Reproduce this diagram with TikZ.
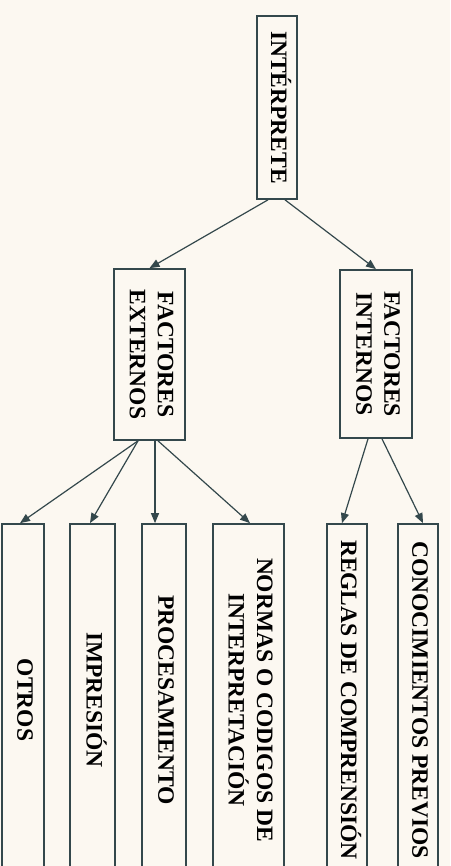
\documentclass[tikz,border=0pt]{standalone}
\usepackage{fontspec}
\setmainfont{Liberation Serif}
\usetikzlibrary{arrows.meta}
\definecolor{bgc}{HTML}{FCF8F1}
\definecolor{linec}{HTML}{34484C}
\newcommand{\rtxt}[1]{\rotatebox{-90}{\begin{tabular}{@{}c@{}}#1\end{tabular}}}
\begin{document}
\begin{tikzpicture}[x=1pt,y=-1pt,
  box/.style={draw=linec, line width=1.7pt, inner sep=0pt, align=center,
    font=\fontsize{23.5}{28}\selectfont\bfseries, text=black},
  conn/.style={draw=linec, line width=1.2pt, -{Triangle[length=10pt,width=8pt]}}]
\useasboundingbox[fill=bgc] (0,0) rectangle (450,866);
\clip (0,0) rectangle (450,866);
\node[box, minimum width=40pt, minimum height=183pt] (int) at (277,107.5) {\rtxt{INTÉRPRETE}};
\node[box, minimum width=72pt, minimum height=168pt] (fi) at (376,354) {\rtxt{FACTORES\\INTERNOS}};
\node[box, minimum width=71pt, minimum height=171pt] (fe) at (149.5,354.5) {\rtxt{FACTORES\\EXTERNOS}};
\node[box, minimum width=42pt, minimum height=352pt] (otros) at (23,700) {\rtxt{OTROS}};
\node[box, minimum width=45pt, minimum height=352pt] (impr) at (92.5,700) {\rtxt{IMPRESIÓN}};
\node[box, minimum width=44pt, minimum height=352pt] (proc) at (164,700) {\rtxt{PROCESAMIENTO}};
\node[box, minimum width=71pt, minimum height=352pt] (norm) at (248.5,700) {\rtxt{NORMAS O CODIGOS DE\\INTERPRETACIÓN}};
\node[box, minimum width=40pt, minimum height=352pt] (regl) at (347,700) {\rtxt{REGLAS DE COMPRENSIÓN}};
\node[box, minimum width=40pt, minimum height=352pt] (cono) at (418,700) {\rtxt{CONOCIMIENTOS PREVIOS}};
\draw[conn] ([xshift=-9pt]int.south) -- (fe.north);
\draw[conn] ([xshift=8pt]int.south) -- (fi.north);
\draw[conn] ([xshift=-11.5pt]fe.south) -- ([xshift=-3pt]otros.north);
\draw[conn] ([xshift=-11.5pt]fe.south) -- ([xshift=-2.5pt]impr.north);
\draw[conn] ([xshift=5.5pt]fe.south) -- ([xshift=-9pt]proc.north);
\draw[conn] ([xshift=8.5pt]fe.south) -- ([xshift=1.5pt]norm.north);
\draw[conn] ([xshift=-8pt]fi.south) -- ([xshift=-5pt]regl.north);
\draw[conn] ([xshift=6pt]fi.south) -- ([xshift=5pt]cono.north);
\end{tikzpicture}
\end{document}
